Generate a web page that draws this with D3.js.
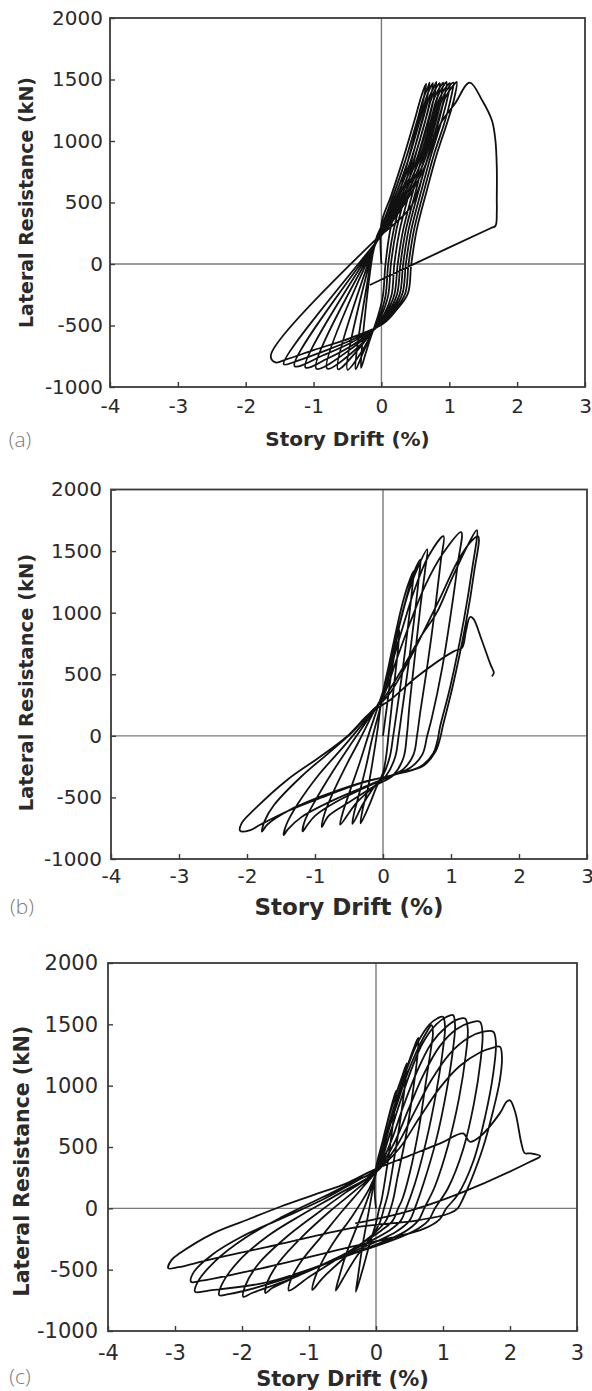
<!DOCTYPE html>
<html><head><meta charset="utf-8">
<script src="https://cdn.jsdelivr.net/npm/d3@7"></script>
<style>body{margin:0;background:#fff} svg{display:block}</style>
</head><body>
<svg id="chart" width="592" height="1391"></svg>
<script>
const xTicks = [-4, -3, -2, -1, 0, 1, 2, 3];
const yTicks = [-1000, -500, 0, 500, 1000, 1500, 2000];
const panelLabels = ["(a)", "(b)", "(c)"];
const xTitle = "Story Drift (%)";
const yTitle = "Lateral Resistance (kN)";

// [story drift (%), lateral resistance (kN)] traced along the test history
const pathA = [
[0,0],[0.0,330],[0.14,550],[0.30,820],[0.49,1173],[0.58,1350],[0.64,1445],[0.66,1465],
[0.62,1340],[0.54,1150],[0.42,900],[0.28,600],[0.13,277],[0.06,0],[0.02,-265],[-0.06,-440],[-0.16,-600],[-0.24,-740],[-0.30,-845],
[-0.09,185],[0.02,330],[0.17,550],[0.34,820],[0.53,1173],[0.62,1350],[0.69,1445],[0.71,1475],
[0.67,1340],[0.59,1150],[0.47,900],[0.33,600],[0.18,277],[0.10,0],[0.06,-260],[-0.03,-430],[-0.14,-560],[-0.27,-720],[-0.38,-855],
[-0.08,190],[0.03,330],[0.20,550],[0.38,820],[0.57,1173],[0.66,1350],[0.73,1445],[0.76,1470],
[0.72,1340],[0.64,1150],[0.51,900],[0.37,600],[0.22,277],[0.14,0],[0.10,-255],[0.0,-420],[-0.12,-540],[-0.3,-720],[-0.5,-860],
[-0.07,195],[0.05,330],[0.23,550],[0.42,820],[0.61,1173],[0.70,1350],[0.78,1445],[0.81,1480],
[0.77,1340],[0.69,1150],[0.56,900],[0.42,600],[0.27,277],[0.19,0],[0.15,-250],[0.04,-410],[-0.1,-520],[-0.35,-700],[-0.64,-855],
[-0.06,200],[0.06,330],[0.26,550],[0.46,820],[0.65,1173],[0.74,1350],[0.82,1445],[0.86,1470],
[0.82,1340],[0.74,1150],[0.61,900],[0.47,600],[0.32,277],[0.24,0],[0.19,-250],[0.07,-400],[-0.08,-510],[-0.35,-680],[-0.8,-850],
[-0.05,205],[0.08,330],[0.29,550],[0.50,820],[0.69,1173],[0.78,1350],[0.87,1445],[0.91,1475],
[0.87,1340],[0.78,1150],[0.65,900],[0.51,600],[0.36,277],[0.28,0],[0.23,-245],[0.10,-395],[-0.06,-505],[-0.4,-670],[-0.96,-850],
[-0.04,210],[0.09,330],[0.32,550],[0.54,820],[0.73,1173],[0.82,1350],[0.91,1445],[0.96,1480],
[0.92,1340],[0.83,1150],[0.70,900],[0.55,600],[0.40,277],[0.32,0],[0.27,-245],[0.13,-390],[-0.04,-500],[-0.4,-650],[-0.8,-770],[-1.12,-840],
[-0.03,215],[0.11,330],[0.35,550],[0.58,820],[0.77,1173],[0.86,1350],[0.96,1445],[1.01,1470],
[0.97,1340],[0.88,1150],[0.74,900],[0.59,600],[0.44,277],[0.36,0],[0.31,-240],[0.16,-385],[-0.02,-495],[-0.45,-640],[-0.85,-740],[-1.28,-830],
[-0.02,220],[0.12,330],[0.38,550],[0.62,820],[0.81,1173],[0.90,1350],[1.00,1445],[1.06,1475],
[1.02,1340],[0.93,1150],[0.78,900],[0.63,600],[0.48,277],[0.40,0],[0.35,-240],[0.19,-380],[0.0,-490],[-0.45,-620],[-0.9,-720],[-1.25,-790],[-1.44,-815],
[-0.01,225],[0.14,330],[0.41,550],[0.66,820],[0.85,1173],[0.94,1350],[1.05,1445],[1.11,1480],
[1.07,1340],[0.97,1150],[0.82,900],[0.67,600],[0.52,277],[0.44,0],[0.39,-239],[0.22,-375],[0.03,-483],[-0.45,-600],[-1.0,-700],[-1.4,-775],[-1.56,-800],[-1.63,-745],
[-0.1,190],[0.2,330],[0.45,480],[0.68,850],[0.88,1150],[1.08,1300],[1.30,1475],[1.49,1325],[1.63,1164],[1.68,1003],[1.70,788],[1.70,519],[1.70,420],[1.68,310],[1.60,289],[0.5,5],[-0.17,-171]
];

const pathB = [
[0,0],[0.06,250],[0.12,500],[0.18,700],[0.22,830],[0.24,860],
[0.22,700],[0.17,450],[0.12,200],[0.08,0],[0.05,-150],[0.0,-300],[-0.1,-420],[-0.2,-560],[-0.33,-710],
[-0.3,-600],[-0.22,-420],[-0.15,-200],[-0.08,50],[-0.02,300],[0.08,560],[0.18,820],[0.28,1060],[0.37,1230],[0.45,1337],
[0.43,1200],[0.37,900],[0.28,500],[0.19,150],[0.15,0],[0.1,-170],[0.0,-320],[-0.15,-430],[-0.3,-560],[-0.45,-715],
[-0.43,-640],[-0.35,-470],[-0.25,-250],[-0.15,0],[-0.04,230],[0.06,450],[0.15,680],[0.24,900],[0.35,1133],[0.45,1320],[0.55,1430],
[0.53,1300],[0.47,1000],[0.38,600],[0.28,200],[0.23,0],[0.18,-170],[0.05,-320],[-0.15,-420],[-0.4,-550],[-0.63,-722],
[-0.6,-640],[-0.5,-470],[-0.35,-230],[-0.2,30],[-0.06,260],[0.05,450],[0.13,620],[0.23,870],[0.36,1140],[0.5,1351],[0.65,1513],
[0.62,1350],[0.55,1050],[0.47,650],[0.39,250],[0.35,0],[0.3,-180],[0.15,-320],[-0.1,-400],[-0.5,-540],[-0.8,-650],[-0.9,-740],
[-0.87,-650],[-0.75,-480],[-0.55,-250],[-0.35,-40],[-0.15,180],[0.02,360],[0.15,620],[0.3,900],[0.46,1180],[0.66,1450],[0.89,1622],
[0.85,1420],[0.77,1050],[0.66,600],[0.55,200],[0.50,0],[0.45,-150],[0.3,-270],[0.05,-340],[-0.3,-430],[-0.7,-540],[-1.0,-650],[-1.12,-730],[-1.18,-776],
[-1.15,-690],[-1.0,-530],[-0.75,-300],[-0.5,-90],[-0.2,150],[0.02,340],[0.2,620],[0.4,920],[0.62,1220],[0.88,1480],[1.15,1654],
[1.1,1400],[1.0,1000],[0.87,550],[0.72,150],[0.65,0],[0.58,-150],[0.4,-260],[0.1,-330],[-0.3,-420],[-0.8,-540],[-1.2,-660],[-1.4,-760],[-1.46,-806],
[-1.42,-720],[-1.25,-550],[-0.95,-320],[-0.6,-100],[-0.25,130],[0.03,320],[0.3,560],[0.55,800],[0.79,1000],[1.0,1260],[1.24,1540],[1.38,1670],
[1.31,1351],[1.19,944],[0.99,401],[0.84,76],[0.8,-40],[0.74,-141],[0.55,-250],[0.16,-317],[-0.34,-383],[-0.9,-490],[-1.4,-610],[-1.7,-720],[-1.78,-778],
[-1.74,-690],[-1.6,-560],[-1.2,-330],[-0.8,-140],[-0.45,30],[-0.15,210],[0.08,330],[0.35,580],[0.6,850],[0.85,1130],[1.1,1420],[1.3,1580],[1.40,1620],
[1.34,1330],[1.22,920],[1.02,390],[0.88,80],[0.84,-20],[0.77,-130],[0.6,-240],[0.2,-310],[-0.3,-380],[-0.9,-500],[-1.4,-610],[-1.8,-720],[-1.95,-765],[-2.1,-772],
[-2.08,-710],[-1.9,-602],[-1.41,-358],[-0.92,-168],[-0.53,-5],[-0.19,185],[0.11,293],[0.5,480],[1.04,686],[1.16,713],[1.22,850],[1.28,965],[1.33,950],[1.45,780],[1.58,580],[1.63,510],[1.60,483]
];

const pathC = [
[0,0],[-0.02,150],[0.0,330],[0.1,550],[0.2,770],[0.3,960],
[0.28,820],[0.22,550],[0.14,250],[0.08,60],[0.05,0],[0.0,-120],[-0.1,-300],[-0.2,-500],[-0.3,-680],
[-0.27,-560],[-0.2,-300],[-0.12,-60],[-0.05,150],[0.0,320],[0.08,500],[0.17,700],[0.28,900],[0.38,1060],[0.46,1182],
[0.44,1040],[0.37,750],[0.27,400],[0.18,120],[0.12,0],[0.06,-110],[-0.05,-220],[-0.3,-400],[-0.5,-580],[-0.6,-670],
[-0.55,-560],[-0.45,-380],[-0.3,-170],[-0.15,40],[-0.03,230],[0.05,380],[0.16,620],[0.3,880],[0.45,1130],[0.56,1300],[0.63,1390],
[0.62,1250],[0.55,950],[0.45,600],[0.32,250],[0.26,80],[0.22,0],[0.15,-100],[0.0,-190],[-0.4,-370],[-0.8,-570],[-0.95,-665],
[-0.92,-580],[-0.8,-430],[-0.6,-250],[-0.35,-60],[-0.1,160],[0.03,330],[0.18,620],[0.32,860],[0.47,1100],[0.65,1330],[0.77,1450],[0.83,1494],
[0.85,1430],[0.82,1300],[0.75,1050],[0.64,650],[0.5,280],[0.39,70],[0.33,0],[0.25,-100],[0.08,-180],[-0.4,-350],[-1.0,-560],[-1.3,-670],
[-1.27,-580],[-1.1,-420],[-0.8,-220],[-0.5,-20],[-0.2,170],[0.02,320],[0.15,560],[0.3,850],[0.45,1120],[0.62,1350],[0.8,1500],[0.92,1550],[1.0,1562],
[1.03,1480],[1.0,1300],[0.9,950],[0.75,550],[0.58,200],[0.45,0],[0.37,-100],[0.2,-180],[-0.5,-380],[-1.2,-560],[-1.55,-650],[-1.65,-690],
[-1.62,-600],[-1.45,-440],[-1.1,-230],[-0.7,-30],[-0.3,150],[0.02,310],[0.18,560],[0.35,850],[0.52,1120],[0.7,1350],[0.9,1500],[1.05,1560],[1.15,1575],
[1.18,1490],[1.15,1300],[1.05,950],[0.9,560],[0.72,220],[0.58,0],[0.5,-100],[0.3,-190],[-0.5,-390],[-1.3,-580],[-1.85,-690],[-1.98,-721],
[-1.95,-630],[-1.75,-450],[-1.35,-240],[-0.9,-50],[-0.45,130],[0.0,300],[0.22,540],[0.4,820],[0.6,1100],[0.82,1340],[1.05,1480],[1.22,1540],[1.33,1548],
[1.37,1460],[1.34,1250],[1.24,900],[1.08,520],[0.88,180],[0.72,0],[0.63,-100],[0.4,-200],[-0.5,-400],[-1.5,-600],[-2.2,-700],[-2.34,-708],
[-2.3,-620],[-2.05,-430],[-1.6,-220],[-1.1,-50],[-0.55,120],[0.0,300],[0.26,520],[0.48,800],[0.7,1080],[0.95,1320],[1.2,1460],[1.42,1515],[1.55,1521],
[1.59,1430],[1.56,1200],[1.46,850],[1.3,480],[1.08,170],[0.88,0],[0.78,-100],[0.55,-190],[-0.5,-400],[-1.6,-600],[-2.5,-670],[-2.7,-680],
[-2.66,-600],[-2.4,-430],[-1.95,-240],[-1.4,-70],[-0.8,90],[-0.2,250],[0.01,300],[0.3,500],[0.56,770],[0.82,1040],[1.1,1260],[1.38,1390],[1.6,1440],[1.75,1440],
[1.79,1350],[1.75,1100],[1.63,750],[1.45,380],[1.22,110],[1.05,0],[0.95,-90],[0.7,-170],[-0.5,-330],[-1.8,-500],[-2.6,-590],[-2.76,-600],
[-2.72,-520],[-2.45,-380],[-2.0,-230],[-1.4,-80],[-0.8,70],[-0.3,220],[0.03,320],[0.35,490],[0.65,740],[0.95,980],[1.25,1160],[1.55,1270],[1.75,1310],[1.85,1317],
[1.88,1230],[1.85,1050],[1.75,800],[1.6,500],[1.42,230],[1.3,80],[1.22,0],[1.1,-40],[0.6,-100],[-0.24,-150],[-1.5,-300],[-2.5,-420],[-2.95,-480],[-3.1,-489],
[-3.05,-420],[-2.93,-367],[-2.43,-204],[-1.93,-95],[-1.43,13],[-0.94,108],[-0.44,204],[-0.04,312],[0.5,430],[1.0,540],[1.3,611],[1.4,543],[1.55,584],[1.85,776],[1.95,870],[2.0,880],[2.08,780],[2.17,530],[2.22,450],[2.3,448],[2.45,425],[2.3,380],[1.25,122],[0.5,-20],[-0.31,-122]
];

const paths = [pathA, pathB, pathC];

// layout (pixel geometry) for each panel
const layouts = [
  {L:110, R:585, T:18,    B:387,  tickFont:20, xPad:12, yPad:7,  xtFont:20, xtY:446,  ytFont:19, ytX:33, ytY:202.5, lab:[20,447]},
  {L:111, R:587, T:489.5, B:859,  tickFont:20, xPad:10, yPad:9,  xtFont:23, xtY:915,  ytFont:19.5, ytX:33, ytY:682.5, lab:[22,914]},
  {L:108, R:577, T:963,   B:1331, tickFont:21, xPad:14, yPad:10, xtFont:21, xtY:1386, ytFont:20.5, ytX:29, ytY:1161, lab:[20,1384]}
];

const svg = d3.select("#chart");

layouts.forEach((ly, i) => {
  const x = d3.scaleLinear().domain([-4, 3]).range([ly.L, ly.R]);
  const y = d3.scaleLinear().domain([-1000, 2000]).range([ly.B, ly.T]);
  const g = svg.append("g");

  g.append("line").attr("x1", x(0)).attr("x2", x(0)).attr("y1", ly.T).attr("y2", ly.B)
    .attr("stroke", "#7a7a7a").attr("stroke-width", 1.4);
  g.append("line").attr("x1", ly.L).attr("x2", ly.R).attr("y1", y(0)).attr("y2", y(0))
    .attr("stroke", "#7a7a7a").attr("stroke-width", 1.4);

  const line = d3.line().x(d => x(d[0])).y(d => y(d[1])).curve(d3.curveCatmullRom.alpha(0.5));
  g.append("path").datum(paths[i]).attr("d", line)
    .attr("fill", "none").attr("stroke", "#111").attr("stroke-width", 1.8)
    .attr("stroke-linejoin", "round");

  g.append("rect").attr("x", ly.L).attr("y", ly.T).attr("width", ly.R - ly.L).attr("height", ly.B - ly.T)
    .attr("fill", "none").attr("stroke", "#3a3a3a").attr("stroke-width", 1.8);

  const ax = g.append("g").attr("transform", `translate(0,${ly.B})`)
    .call(d3.axisBottom(x).tickValues(xTicks).tickSize(-5).tickPadding(ly.xPad).tickFormat(d => String(d)));
  const ay = g.append("g").attr("transform", `translate(${ly.L},0)`)
    .call(d3.axisLeft(y).tickValues(yTicks).tickSize(-5).tickPadding(ly.yPad).tickFormat(d => String(d)));
  [ax, ay].forEach(a => {
    a.select(".domain").remove();
    a.selectAll(".tick line").attr("stroke", "#3a3a3a").attr("stroke-width", 1.4);
    a.selectAll("text").attr("font-family", "'DejaVu Sans', Verdana, sans-serif")
      .attr("font-size", ly.tickFont).attr("fill", "#2a2a2a");
  });

  g.append("text").attr("x", (ly.L + ly.R) / 2).attr("y", ly.xtY).attr("text-anchor", "middle")
    .attr("font-family", "'DejaVu Sans', Verdana, sans-serif").attr("font-weight", "bold")
    .attr("font-size", ly.xtFont).attr("fill", "#2a2a2a").text(xTitle);
  g.append("text").attr("transform", `translate(${ly.ytX},${ly.ytY}) rotate(-90)`).attr("text-anchor", "middle")
    .attr("font-family", "'DejaVu Sans', Verdana, sans-serif").attr("font-weight", "bold")
    .attr("font-size", ly.ytFont).attr("fill", "#2a2a2a").text(yTitle);

  g.append("text").attr("x", ly.lab[0]).attr("y", ly.lab[1]).attr("text-anchor", "middle")
    .attr("font-family", "'Open Sans', 'Noto Sans', sans-serif").attr("font-weight", 300)
    .attr("font-size", 21).attr("fill", "#7a7a7a").text(panelLabels[i]);
});
</script>
</body></html>
